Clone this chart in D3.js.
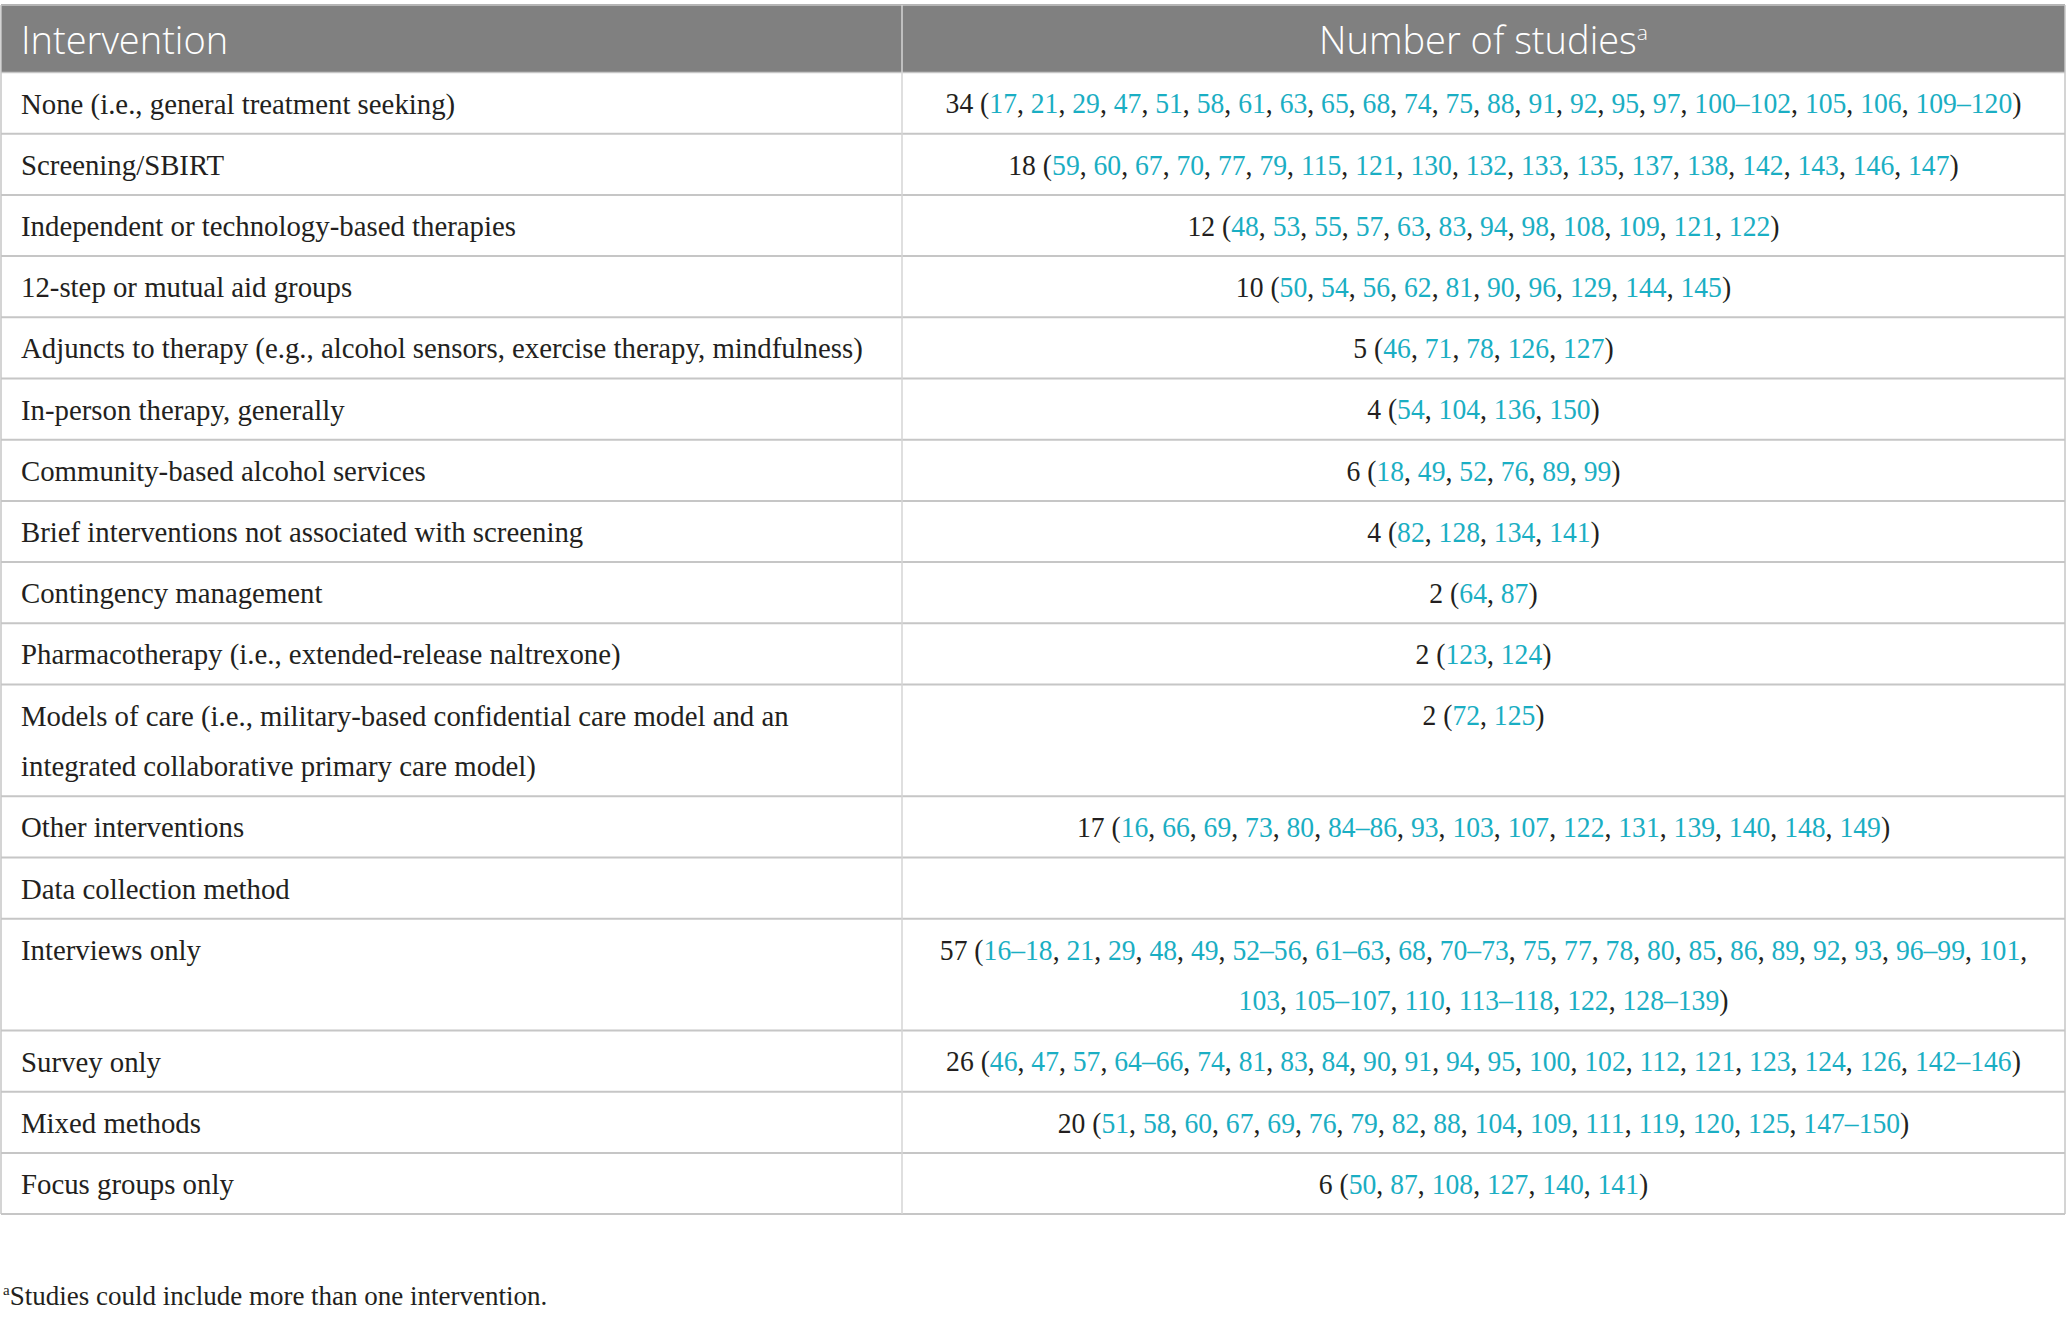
<!DOCTYPE html>
<html><head><meta charset="utf-8">
<script src="https://cdn.jsdelivr.net/npm/d3@7"></script>
<style>
html,body{margin:0;padding:0;background:#fff;}
svg{display:block;}
text{white-space:pre;}
</style></head>
<body>
<script>
// ---------- data ----------
const headers = ["Intervention", "Number of studies"];
const headerNote = "a";
const categories = [
  "None (i.e., general treatment seeking)",
  "Screening/SBIRT",
  "Independent or technology-based therapies",
  "12-step or mutual aid groups",
  "Adjuncts to therapy (e.g., alcohol sensors, exercise therapy, mindfulness)",
  "In-person therapy, generally",
  "Community-based alcohol services",
  "Brief interventions not associated with screening",
  "Contingency management",
  "Pharmacotherapy (i.e., extended-release naltrexone)",
  "Models of care (i.e., military-based confidential care model and an integrated collaborative primary care model)",
  "Other interventions",
  "Data collection method",
  "Interviews only",
  "Survey only",
  "Mixed methods",
  "Focus groups only"
];
const counts = [34, 18, 12, 10, 5, 4, 6, 4, 2, 2, 2, 17, null, 57, 26, 20, 6];
const references = [
  ["17","21","29","47","51","58","61","63","65","68","74","75","88","91","92","95","97","100–102","105","106","109–120"],
  ["59","60","67","70","77","79","115","121","130","132","133","135","137","138","142","143","146","147"],
  ["48","53","55","57","63","83","94","98","108","109","121","122"],
  ["50","54","56","62","81","90","96","129","144","145"],
  ["46","71","78","126","127"],
  ["54","104","136","150"],
  ["18","49","52","76","89","99"],
  ["82","128","134","141"],
  ["64","87"],
  ["123","124"],
  ["72","125"],
  ["16","66","69","73","80","84–86","93","103","107","122","131","139","140","148","149"],
  [],
  ["16–18","21","29","48","49","52–56","61–63","68","70–73","75","77","78","80","85","86","89","92","93","96–99","101","103","105–107","110","113–118","122","128–139"],
  ["46","47","57","64–66","74","81","83","84","90","91","94","95","100","102","112","121","123","124","126","142–146"],
  ["51","58","60","67","69","76","79","82","88","104","109","111","119","120","125","147–150"],
  ["50","87","108","127","140","141"]
];
const footnote = "Studies could include more than one intervention.";

// ---------- layout ----------
const W = 2067, H = 1318;
const tableL = 1, tableR = 2065, divX = 902;
const headTop = 5, headH = 67.5;
const rowH = 61.2, lineGap = 50.6, firstBase = 41, padX = 21;
const serif = "'Liberation Serif', 'Times New Roman', serif";
const sans = "'Open Sans', 'Noto Sans', sans-serif";
const bodySize = 28.8;
const headSize = 38;
const rightScale = 0.96;   // narrower numerals in the right column
const black = "#231f20", teal = "#1aaec3", gridCol = "#c6c6c6", headBg = "#808080";

const svg = d3.select("body").append("svg").attr("width", W).attr("height", H);
svg.append("rect").attr("width", W).attr("height", H).attr("fill", "#fff");

// measuring helper
const meas = svg.append("text").attr("font-family", serif).attr("font-size", bodySize).attr("opacity", 0);
function width(str){ meas.text(str); return meas.node().getComputedTextLength(); }

function wrap(words, maxW){
  const lines = []; let cur = [];
  const txt = ws => ws.map(w => w.map(s => s.t).join("")).join(" ");
  words.forEach(w => {
    const trial = cur.concat([w]);
    if (cur.length && width(txt(trial)) > maxW) { lines.push(cur); cur = [w]; }
    else cur = trial;
  });
  if (cur.length) lines.push(cur);
  return lines;
}

const leftMax = divX - tableL - 2 * padX;
const rightMax = (tableR - divX - 2 * padX) / rightScale;

const rows = categories.map((c, i) => {
  const lw = c.split(" ").map(t => [{t, c: black}]);
  const leftLines = wrap(lw, leftMax);
  let rightLines = [];
  if (counts[i] != null) {
    const refs = references[i];
    const words = [[{t: String(counts[i]), c: black}]];
    refs.forEach((r, k) => {
      const w = [];
      if (k === 0) w.push({t: "(", c: black});
      w.push({t: r, c: teal});
      w.push({t: k === refs.length - 1 ? ")" : ",", c: black});
      words.push(w);
    });
    rightLines = wrap(words, rightMax);
  }
  const n = Math.max(leftLines.length, rightLines.length, 1);
  return {leftLines, rightLines, n};
});
meas.remove();

let y = headTop + headH;
rows.forEach(r => { r.y = y; r.h = rowH + (r.n - 1) * lineGap; y += r.h; });
const tableBottom = y;

// header
svg.append("rect").attr("x", tableL).attr("y", headTop).attr("width", tableR - tableL).attr("height", headH)
  .attr("fill", headBg);
svg.append("line").attr("x1", tableL).attr("x2", tableR).attr("y1", headTop).attr("y2", headTop)
  .attr("stroke", "#b5b5b5").attr("stroke-width", 2);
svg.append("text").attr("x", tableL + padX - 1).attr("y", headTop + 49)
  .attr("font-family", sans).attr("font-weight", 300).attr("font-size", headSize).attr("fill", "#fff").text(headers[0]);
const h2 = svg.append("text").attr("x", (divX + tableR) / 2).attr("y", headTop + 49)
  .attr("text-anchor", "middle").attr("font-family", sans).attr("font-weight", 300).attr("font-size", headSize).attr("fill", "#fff");
h2.append("tspan").text(headers[1]);
h2.append("tspan").attr("font-size", 21).attr("dy", -14).text(headerNote);

// rows
const cx = (divX + tableR) / 2;
const g = svg.append("g");
rows.forEach(r => {
  const rg = g.append("g");
  r.leftLines.forEach((ln, j) => {
    rg.append("text").attr("x", tableL + padX - 1).attr("y", r.y + firstBase + j * lineGap)
      .attr("font-family", serif).attr("font-size", bodySize).attr("fill", black)
      .text(ln.map(w => w.map(s => s.t).join("")).join(" "));
  });
  r.rightLines.forEach((ln, j) => {
    const t = rg.append("text").attr("x", cx).attr("y", r.y + firstBase + j * lineGap)
      .attr("transform", `translate(${cx},0) scale(${rightScale},1) translate(${-cx},0)`)
      .attr("text-anchor", "middle").attr("font-family", serif).attr("font-size", bodySize);
    ln.forEach((w, wi) => {
      w.forEach(s => t.append("tspan").attr("fill", s.c).text(s.t));
      if (wi < ln.length - 1) t.append("tspan").attr("fill", black).text(" ");
    });
  });
  g.append("line").attr("x1", tableL).attr("x2", tableR).attr("y1", r.y + r.h).attr("y2", r.y + r.h)
    .attr("stroke", gridCol).attr("stroke-width", 2);
});
svg.append("line").attr("x1", tableL).attr("x2", tableR).attr("y1", headTop + headH).attr("y2", headTop + headH)
  .attr("stroke", gridCol).attr("stroke-width", 1.5);

// verticals
svg.append("line").attr("x1", divX).attr("x2", divX).attr("y1", headTop).attr("y2", tableBottom)
  .attr("stroke", "#d4d4d4").attr("stroke-width", 1.5);
[tableL, tableR].forEach(x => svg.append("line").attr("x1", x).attr("x2", x)
  .attr("y1", headTop).attr("y2", tableBottom).attr("stroke", gridCol).attr("stroke-width", 1.5));

// footnote
const fn = svg.append("text").attr("x", 3).attr("y", tableBottom + 91)
  .attr("font-family", serif).attr("font-size", 27).attr("fill", black);
fn.append("tspan").attr("font-size", 15).attr("dy", -10).text(headerNote);
fn.append("tspan").attr("dy", 10).text(footnote);
</script>
</body></html>
